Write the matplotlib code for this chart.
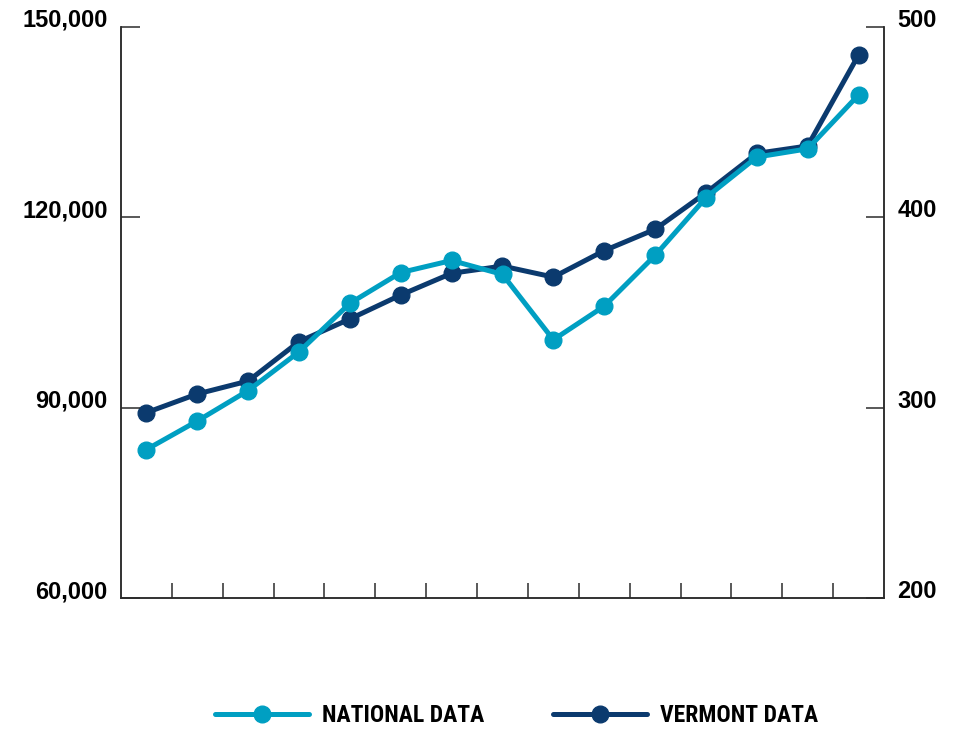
import matplotlib
matplotlib.use("Agg")
import matplotlib.pyplot as plt
from matplotlib.lines import Line2D
import numpy as np

# Series values (one point per period)
national = [83400, 87900, 92700, 98800, 106450, 111300, 113200, 111000,
            100700, 106000, 114000, 123100, 129500, 130800, 139300]
vermont = [297.4, 307.2, 314.0, 334.7, 346.6, 359.2, 370.6, 374.4,
           368.6, 382.5, 393.7, 412.9, 433.6, 437.5, 485.3]

left_ticks = [60000, 90000, 120000, 150000]
left_labels = ["60,000", "90,000", "120,000", "150,000"]
right_ticks = [200, 300, 400, 500]
right_labels = ["200", "300", "400", "500"]

series_names = ["NATIONAL DATA", "VERMONT DATA"]
c_nat = "#009FC2"
c_vt = "#0B3A6E"
axis_col = "#2b2b2b"

tick_font = {"family": ["Liberation Sans", "DejaVu Sans"], "weight": "bold", "size": 17}

fig = plt.figure(figsize=(9.56, 7.29), dpi=100)
ax = fig.add_axes([121 / 956, 1 - 598 / 729, (884 - 121) / 956, (598 - 27) / 729])
ax2 = ax.twinx()

n = len(national)
x = np.arange(n) + 0.5

ax2.plot(x, vermont, color=c_vt, lw=3.6, marker="o", ms=12, solid_capstyle="round")
ax.plot(x, national, color=c_nat, lw=3.6, marker="o", ms=12, solid_capstyle="round")

# national line drawn above the twin axis
ax.set_zorder(ax2.get_zorder() + 1)
ax.patch.set_visible(False)

ax.set_xlim(0, n)
ax.set_ylim(60000, 150000)
ax2.set_ylim(200, 500)

ax.set_xticks(np.arange(1, n))
ax.set_xticklabels([])
ax.set_yticks(left_ticks)
ax.set_yticklabels(left_labels, fontdict=tick_font)
ax2.set_yticks(right_ticks)
ax2.set_yticklabels(right_labels, fontdict=tick_font)

for a in (ax, ax2):
    a.spines["top"].set_visible(False)
    for s in ("left", "right", "bottom"):
        a.spines[s].set_color(axis_col)
        a.spines[s].set_linewidth(1.1)

ax.tick_params(axis="x", direction="in", length=11, width=1.1, color=axis_col)
ax.tick_params(axis="y", direction="in", length=14, width=1.1, color=axis_col, pad=9.5)
ax2.tick_params(axis="y", direction="in", length=13, width=1.1, color=axis_col, pad=9.5)

for lab in ax.get_yticklabels() + ax2.get_yticklabels():
    lab.set_verticalalignment("baseline")

handles = [
    Line2D([], [], color=c_nat, lw=3.6, marker="o", ms=12, solid_capstyle="round"),
    Line2D([], [], color=c_vt, lw=3.6, marker="o", ms=12, solid_capstyle="round"),
]
fig.legend(handles, series_names, loc="center", ncol=2, frameon=False,
           bbox_to_anchor=(516.5 / 956, 1 - 716 / 729),
           handlelength=4.0, handletextpad=0.55, columnspacing=2.9,
           prop={"family": ["Roboto Condensed", "Liberation Sans"],
                 "weight": "bold", "size": 17})

fig.savefig("out.png", dpi=100)
